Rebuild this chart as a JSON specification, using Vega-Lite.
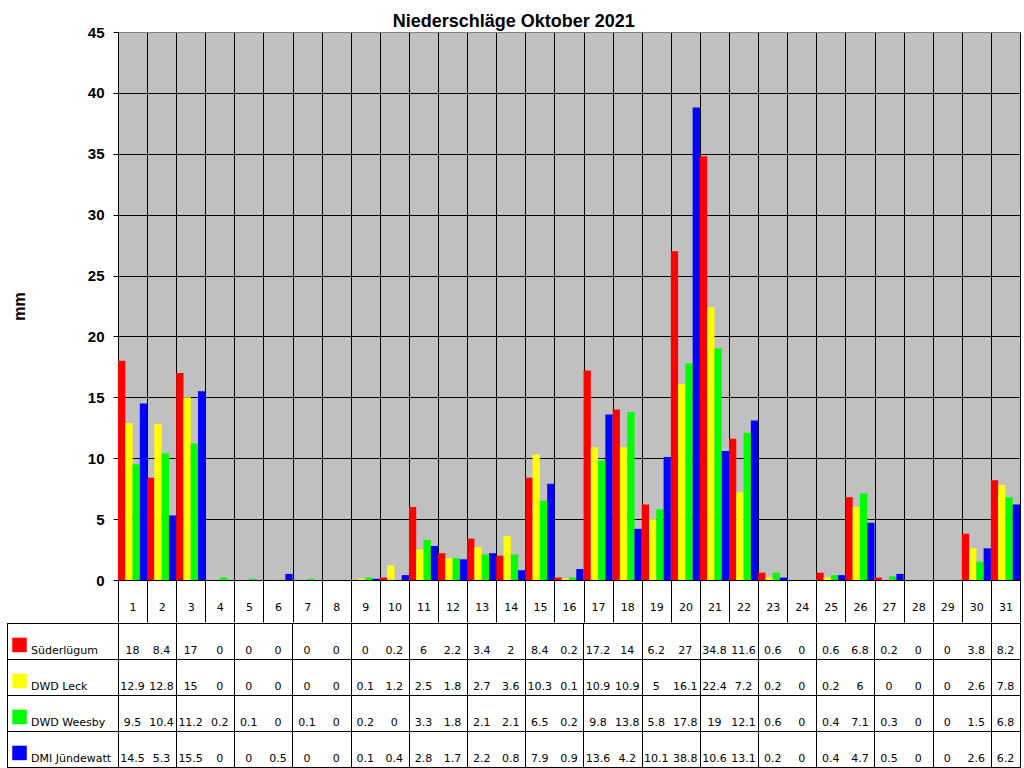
{
  "$schema": "https://vega.github.io/schema/vega-lite/v6.json",
  "padding": {"left": 6, "right": 5, "top": 12, "bottom": 2},
  "background": "white",
  "title": {"text": "Niederschläge Oktober 2021", "font": "Liberation Sans", "fontSize": 18, "fontWeight": "bold", "color": "black", "anchor": "middle", "offset": -6},
  "datasets": {
    "rain": [
      {"day":1,"station":"Süderlügum","mm":18},{"day":1,"station":"DWD Leck","mm":12.9},{"day":1,"station":"DWD Weesby","mm":9.5},{"day":1,"station":"DMI Jündewatt","mm":14.5},
      {"day":2,"station":"Süderlügum","mm":8.4},{"day":2,"station":"DWD Leck","mm":12.8},{"day":2,"station":"DWD Weesby","mm":10.4},{"day":2,"station":"DMI Jündewatt","mm":5.3},
      {"day":3,"station":"Süderlügum","mm":17},{"day":3,"station":"DWD Leck","mm":15},{"day":3,"station":"DWD Weesby","mm":11.2},{"day":3,"station":"DMI Jündewatt","mm":15.5},
      {"day":4,"station":"Süderlügum","mm":0},{"day":4,"station":"DWD Leck","mm":0},{"day":4,"station":"DWD Weesby","mm":0.2},{"day":4,"station":"DMI Jündewatt","mm":0},
      {"day":5,"station":"Süderlügum","mm":0},{"day":5,"station":"DWD Leck","mm":0},{"day":5,"station":"DWD Weesby","mm":0.1},{"day":5,"station":"DMI Jündewatt","mm":0},
      {"day":6,"station":"Süderlügum","mm":0},{"day":6,"station":"DWD Leck","mm":0},{"day":6,"station":"DWD Weesby","mm":0},{"day":6,"station":"DMI Jündewatt","mm":0.5},
      {"day":7,"station":"Süderlügum","mm":0},{"day":7,"station":"DWD Leck","mm":0},{"day":7,"station":"DWD Weesby","mm":0.1},{"day":7,"station":"DMI Jündewatt","mm":0},
      {"day":8,"station":"Süderlügum","mm":0},{"day":8,"station":"DWD Leck","mm":0},{"day":8,"station":"DWD Weesby","mm":0},{"day":8,"station":"DMI Jündewatt","mm":0},
      {"day":9,"station":"Süderlügum","mm":0},{"day":9,"station":"DWD Leck","mm":0.1},{"day":9,"station":"DWD Weesby","mm":0.2},{"day":9,"station":"DMI Jündewatt","mm":0.1},
      {"day":10,"station":"Süderlügum","mm":0.2},{"day":10,"station":"DWD Leck","mm":1.2},{"day":10,"station":"DWD Weesby","mm":0},{"day":10,"station":"DMI Jündewatt","mm":0.4},
      {"day":11,"station":"Süderlügum","mm":6},{"day":11,"station":"DWD Leck","mm":2.5},{"day":11,"station":"DWD Weesby","mm":3.3},{"day":11,"station":"DMI Jündewatt","mm":2.8},
      {"day":12,"station":"Süderlügum","mm":2.2},{"day":12,"station":"DWD Leck","mm":1.8},{"day":12,"station":"DWD Weesby","mm":1.8},{"day":12,"station":"DMI Jündewatt","mm":1.7},
      {"day":13,"station":"Süderlügum","mm":3.4},{"day":13,"station":"DWD Leck","mm":2.7},{"day":13,"station":"DWD Weesby","mm":2.1},{"day":13,"station":"DMI Jündewatt","mm":2.2},
      {"day":14,"station":"Süderlügum","mm":2},{"day":14,"station":"DWD Leck","mm":3.6},{"day":14,"station":"DWD Weesby","mm":2.1},{"day":14,"station":"DMI Jündewatt","mm":0.8},
      {"day":15,"station":"Süderlügum","mm":8.4},{"day":15,"station":"DWD Leck","mm":10.3},{"day":15,"station":"DWD Weesby","mm":6.5},{"day":15,"station":"DMI Jündewatt","mm":7.9},
      {"day":16,"station":"Süderlügum","mm":0.2},{"day":16,"station":"DWD Leck","mm":0.1},{"day":16,"station":"DWD Weesby","mm":0.2},{"day":16,"station":"DMI Jündewatt","mm":0.9},
      {"day":17,"station":"Süderlügum","mm":17.2},{"day":17,"station":"DWD Leck","mm":10.9},{"day":17,"station":"DWD Weesby","mm":9.8},{"day":17,"station":"DMI Jündewatt","mm":13.6},
      {"day":18,"station":"Süderlügum","mm":14},{"day":18,"station":"DWD Leck","mm":10.9},{"day":18,"station":"DWD Weesby","mm":13.8},{"day":18,"station":"DMI Jündewatt","mm":4.2},
      {"day":19,"station":"Süderlügum","mm":6.2},{"day":19,"station":"DWD Leck","mm":5},{"day":19,"station":"DWD Weesby","mm":5.8},{"day":19,"station":"DMI Jündewatt","mm":10.1},
      {"day":20,"station":"Süderlügum","mm":27},{"day":20,"station":"DWD Leck","mm":16.1},{"day":20,"station":"DWD Weesby","mm":17.8},{"day":20,"station":"DMI Jündewatt","mm":38.8},
      {"day":21,"station":"Süderlügum","mm":34.8},{"day":21,"station":"DWD Leck","mm":22.4},{"day":21,"station":"DWD Weesby","mm":19},{"day":21,"station":"DMI Jündewatt","mm":10.6},
      {"day":22,"station":"Süderlügum","mm":11.6},{"day":22,"station":"DWD Leck","mm":7.2},{"day":22,"station":"DWD Weesby","mm":12.1},{"day":22,"station":"DMI Jündewatt","mm":13.1},
      {"day":23,"station":"Süderlügum","mm":0.6},{"day":23,"station":"DWD Leck","mm":0.2},{"day":23,"station":"DWD Weesby","mm":0.6},{"day":23,"station":"DMI Jündewatt","mm":0.2},
      {"day":24,"station":"Süderlügum","mm":0},{"day":24,"station":"DWD Leck","mm":0},{"day":24,"station":"DWD Weesby","mm":0},{"day":24,"station":"DMI Jündewatt","mm":0},
      {"day":25,"station":"Süderlügum","mm":0.6},{"day":25,"station":"DWD Leck","mm":0.2},{"day":25,"station":"DWD Weesby","mm":0.4},{"day":25,"station":"DMI Jündewatt","mm":0.4},
      {"day":26,"station":"Süderlügum","mm":6.8},{"day":26,"station":"DWD Leck","mm":6},{"day":26,"station":"DWD Weesby","mm":7.1},{"day":26,"station":"DMI Jündewatt","mm":4.7},
      {"day":27,"station":"Süderlügum","mm":0.2},{"day":27,"station":"DWD Leck","mm":0},{"day":27,"station":"DWD Weesby","mm":0.3},{"day":27,"station":"DMI Jündewatt","mm":0.5},
      {"day":28,"station":"Süderlügum","mm":0},{"day":28,"station":"DWD Leck","mm":0},{"day":28,"station":"DWD Weesby","mm":0},{"day":28,"station":"DMI Jündewatt","mm":0},
      {"day":29,"station":"Süderlügum","mm":0},{"day":29,"station":"DWD Leck","mm":0},{"day":29,"station":"DWD Weesby","mm":0},{"day":29,"station":"DMI Jündewatt","mm":0},
      {"day":30,"station":"Süderlügum","mm":3.8},{"day":30,"station":"DWD Leck","mm":2.6},{"day":30,"station":"DWD Weesby","mm":1.5},{"day":30,"station":"DMI Jündewatt","mm":2.6},
      {"day":31,"station":"Süderlügum","mm":8.2},{"day":31,"station":"DWD Leck","mm":7.8},{"day":31,"station":"DWD Weesby","mm":6.8},{"day":31,"station":"DMI Jündewatt","mm":6.2}
    ]
  },
  "data": {"name": "rain"},
  "spacing": -4,
  "vconcat": [
    {
      "spacing": 0,
      "bounds": "flush",
      "hconcat": [
        {
          "width": 111,
          "height": 548,
          "data": {"values": []},
          "view": {"fill": null, "stroke": null},
          "mark": {"type": "point"},
          "encoding": {}
        },
        {
          "width": 902,
          "height": 548,
          "view": {"fill": "#C0C0C0", "stroke": "#808080"},
          "mark": {"type": "bar"},
          "encoding": {
            "x": {
              "field": "day", "type": "ordinal",
              "scale": {"paddingInner": 0, "paddingOuter": 0},
              "axis": {
                "title": null, "labelAngle": 0, "labelFont": "DejaVu Sans", "labelFontSize": 11, "labelColor": "black",
                "labelBaseline": "alphabetic", "labelPadding": -12,
                "tickBand": "extent", "tickSize": 42, "tickColor": "black",
                "domainColor": "black", "grid": true, "gridColor": "black", "gridOpacity": 1
              }
            },
            "xOffset": {
              "field": "station", "type": "nominal",
              "sort": ["Süderlügum", "DWD Leck", "DWD Weesby", "DMI Jündewatt"],
              "scale": {"paddingInner": 0, "paddingOuter": 0}
            },
            "y": {
              "field": "mm", "type": "quantitative",
              "scale": {"domain": [0, 45], "nice": false},
              "axis": {
                "title": "mm", "titleFont": "Liberation Sans", "titleFontSize": 16, "titleFontWeight": "bold", "titleColor": "black",
                "titlePadding": 60,
                "values": [0, 5, 10, 15, 20, 25, 30, 35, 40, 45],
                "labelFont": "Liberation Sans", "labelFontSize": 15, "labelFontWeight": "bold", "labelColor": "black", "labelPadding": 9,
                "tickSize": 5, "tickColor": "black", "domainColor": "black",
                "grid": true, "gridOpacity": 1,
                "gridColor": {"condition": {"test": "datum.value == 45", "value": "#808080"}, "value": "black"},
                "minExtent": 31, "maxExtent": 31
              }
            },
            "color": {
              "field": "station", "type": "nominal",
              "scale": {"domain": ["Süderlügum", "DWD Leck", "DWD Weesby", "DMI Jündewatt"], "range": ["#FF0000", "#FFFF00", "#00FF00", "#0000FF"]},
              "legend": null
            }
          }
        }
      ]
    },
    {
      "width": 1013,
      "height": 144,
      "view": {"fill": "white", "stroke": "black"},
      "encoding": {
        "y": {
          "field": "station", "type": "nominal",
          "sort": ["Süderlügum", "DWD Leck", "DWD Weesby", "DMI Jündewatt"],
          "scale": {"type": "band", "paddingInner": 0, "paddingOuter": 0},
          "axis": {"title": null, "labels": false, "ticks": false, "domain": false, "grid": true, "gridColor": "black", "gridOpacity": 1, "tickBand": "extent"}
        }
      },
      "layer": [
        {
          "mark": {"type": "text", "font": "DejaVu Sans", "fontSize": 11, "color": "black", "align": "center", "baseline": "alphabetic"},
          "encoding": {
            "x": {
              "field": "day", "type": "quantitative",
              "scale": {"domain": [-3.31, 31.5], "nice": false, "zero": false},
              "axis": {"title": null, "labels": false, "ticks": false, "domain": false, "grid": true, "gridColor": "black", "gridOpacity": 1,
                       "values": [0.5,1.5,2.5,3.5,4.5,5.5,6.5,7.5,8.5,9.5,10.5,11.5,12.5,13.5,14.5,15.5,16.5,17.5,18.5,19.5,20.5,21.5,22.5,23.5,24.5,25.5,26.5,27.5,28.5,29.5,30.5,31.5]}
            },
            "y": {"field": "station", "type": "nominal", "sort": ["Süderlügum", "DWD Leck", "DWD Weesby", "DMI Jündewatt"], "bandPosition": 0.85},
            "text": {"field": "mm", "type": "quantitative"}
          }
        },
        {
          "transform": [{"filter": "datum.day == 1"}],
          "mark": {"type": "point", "shape": "square", "filled": true, "size": 210, "opacity": 1, "strokeWidth": 0},
          "encoding": {
            "x": {"datum": -2.88, "type": "quantitative"},
            "y": {"field": "station", "type": "nominal", "sort": ["Süderlügum", "DWD Leck", "DWD Weesby", "DMI Jündewatt"], "bandPosition": 0.61},
            "color": {"field": "station", "type": "nominal", "legend": null}
          }
        },
        {
          "transform": [{"filter": "datum.day == 1"}],
          "mark": {"type": "text", "font": "DejaVu Sans", "fontSize": 11, "color": "black", "align": "left", "baseline": "alphabetic"},
          "encoding": {
            "x": {"datum": -2.485, "type": "quantitative"},
            "y": {"field": "station", "type": "nominal", "sort": ["Süderlügum", "DWD Leck", "DWD Weesby", "DMI Jündewatt"], "bandPosition": 0.85},
            "text": {"field": "station", "type": "nominal"}
          }
        }
      ]
    }
  ]
}
